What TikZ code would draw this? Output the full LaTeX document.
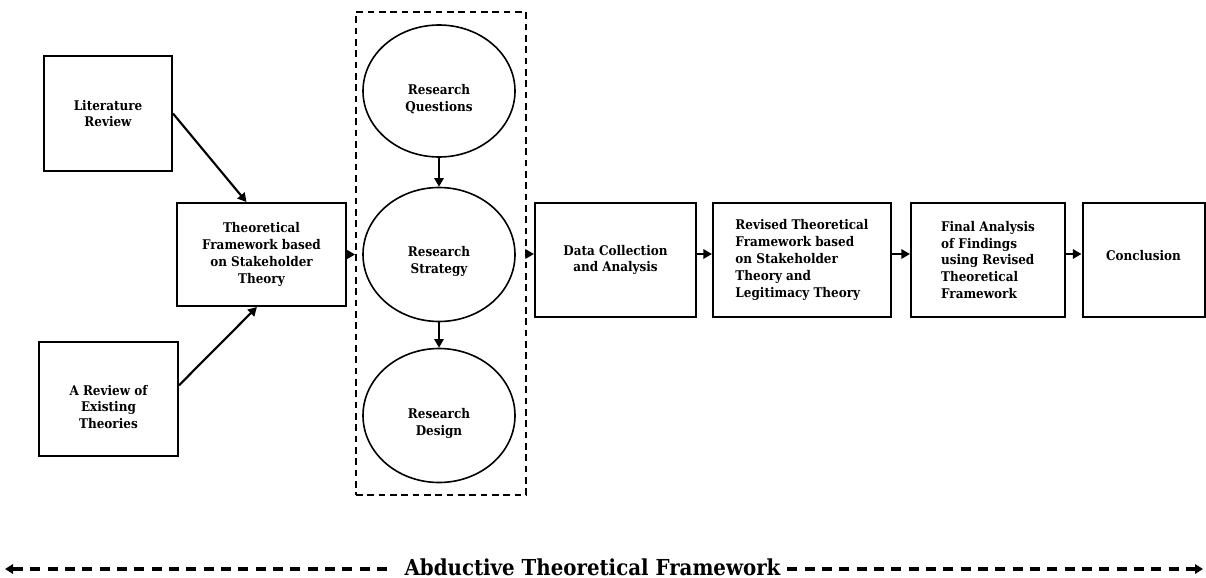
\documentclass[tikz,border=0pt]{standalone}
\usepackage{fontspec}
\setmainfont{DejaVu Serif Condensed}
\usetikzlibrary{arrows.meta,shapes.geometric}
\newdimen\pxu \pxu=0.75pt
\tikzset{
  txt/.style={font=\bfseries\fontsize{10}{12.6}\selectfont},
  stepbox/.style={draw, line width=1.5pt, inner sep=0pt, txt},
  oval/.style={draw, ellipse, line width=1.2pt, inner sep=0pt,
    minimum width=152\pxu, minimum height=134\pxu},
  flow/.style={line width=1.6pt, -{Triangle[length=6.5pt,width=7pt]}},
  span/.style={line width=2.4pt, dash pattern=on 7.5pt off 5.5pt,
    -{Triangle[length=6pt,width=7pt]}},
}
\begin{document}
\begin{tikzpicture}[x=0.75pt,y=-0.75pt]
\useasboundingbox (0,0) rectangle (1206,578);
\coordinate (row) at (0,254);

% sources feeding the initial framework
\node[stepbox, minimum width=128\pxu, minimum height=115\pxu, align=center]
  (lit) at (108,113.5) {Literature\\Review};
\node[stepbox, minimum width=139\pxu, minimum height=114\pxu,
  label={[txt, align=center, yshift=-6pt]center:A Review of\\Existing\\Theories}]
  (rev) at (108.5,399) {};
\node[stepbox, minimum width=169\pxu, minimum height=103\pxu, align=center]
  (tf) at (261.5,254.5) {Theoretical\\Framework based\\on Stakeholder\\Theory};

% research method group
\node[draw, line width=1.3pt, dash pattern=on 5pt off 3.5pt, inner sep=0pt,
  minimum width=170\pxu, minimum height=483\pxu] (grp) at (441,253.5) {};
\node[oval, minimum height=132\pxu,
  label={[txt, align=center, yshift=-6pt]center:Research\\Questions}]
  (rq) at (439,91) {};
\node[oval,
  label={[txt, align=center, yshift=-5pt]center:Research\\Strategy}]
  (rs) at (439,254.5) {};
\node[oval,
  label={[txt, align=center, yshift=-6pt]center:Research\\Design}]
  (rd) at (439,415.5) {};

% main sequence
\node[stepbox, minimum width=161\pxu, minimum height=114\pxu, align=center]
  (dc) at (615.5,260) {Data Collection\\and Analysis};
\node[stepbox, minimum width=178\pxu, minimum height=114\pxu, align=left]
  (rv) at (802,260) {Revised Theoretical\\Framework based\\on Stakeholder\\Theory and\\Legitimacy Theory};
\node[stepbox, minimum width=154\pxu, minimum height=114\pxu, align=left]
  (fa) at (988,260) {Final Analysis\\of Findings\\using Revised\\Theoretical\\Framework};
\node[stepbox, minimum width=122\pxu, minimum height=114\pxu, align=center]
  (cn) at (1143.5,260) {Conclusion\\[-6pt]};

% connectors
\draw[flow] (lit.east) -- (tf.106);
\draw[flow] (rev.11) -- (tf.265);
\draw[flow] (tf.east) -- (tf.east -| grp.west);
\draw[flow] (rq.south) -- (rs.north);
\draw[flow] (rs.south) -- (rd.north);
\draw[flow] (grp.east |- row) -- (dc.west |- row);
\draw[flow] (dc.east |- row) -- (rv.west |- row);
\draw[flow] (rv.east |- row) -- (fa.west |- row);
\draw[flow] (fa.east |- row) -- (cn.west |- row);

% overall approach
\node[font=\bfseries\fontsize{16.5}{19}\selectfont, anchor=base, inner sep=0pt]
  (abd) at (592.5,575) {Abductive Theoretical Framework};
\coordinate (endL) at (5,569);
\coordinate (endR) at (1203,569);
\draw[span] ([xshift=-13pt]abd.west |- endL) -- (endL);
\draw[span] ([xshift=5pt]abd.east |- endR) -- (endR);
\end{tikzpicture}
\end{document}
